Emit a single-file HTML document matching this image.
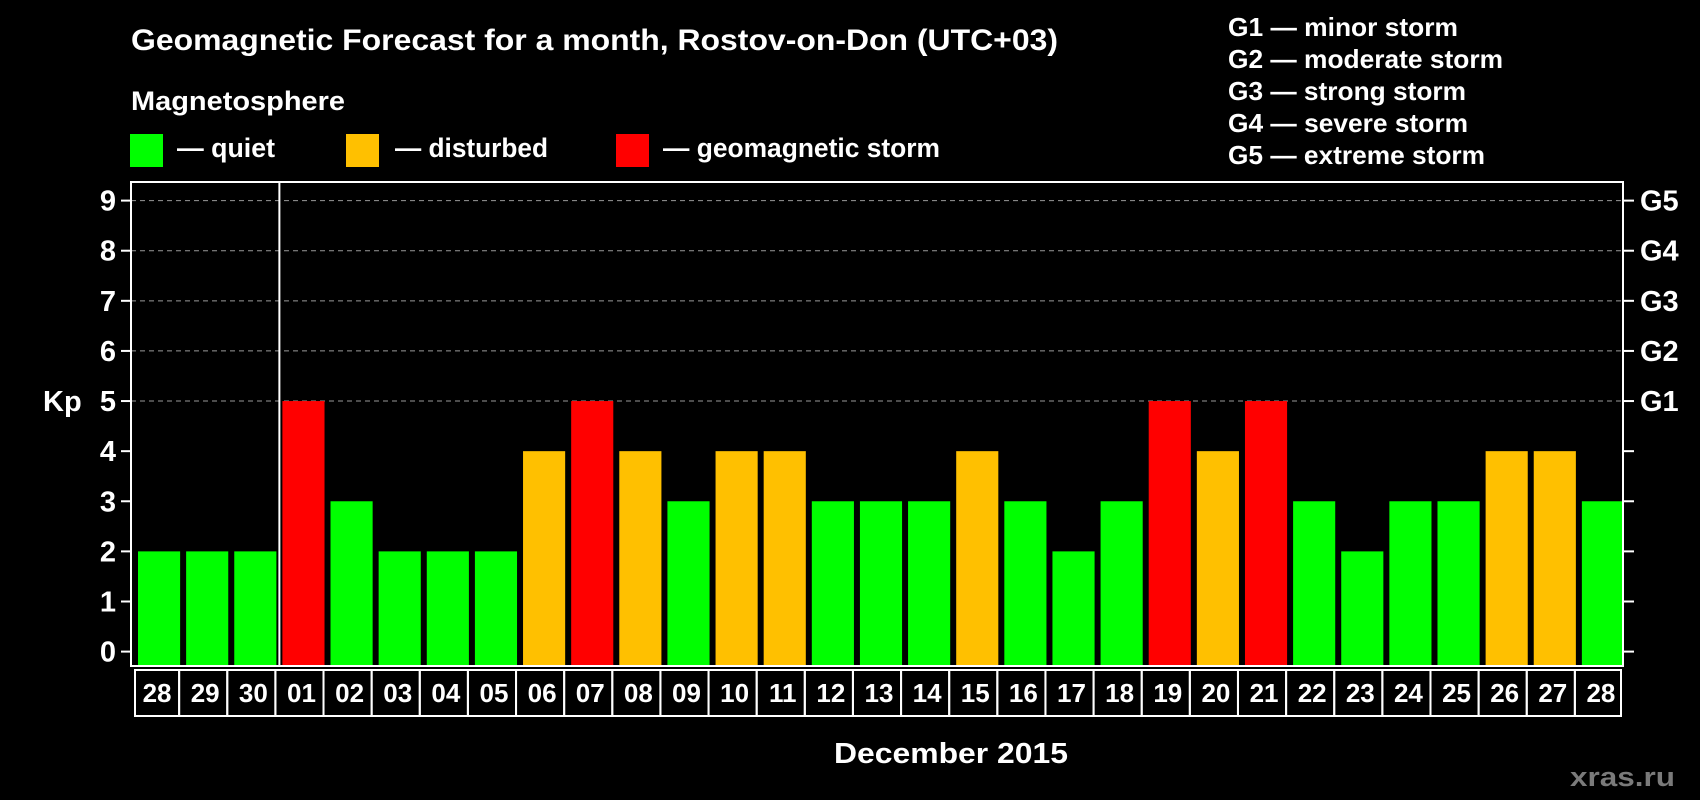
<!DOCTYPE html>
<html><head><meta charset="utf-8"><style>
html,body{margin:0;padding:0;background:#000;}
svg{display:block;font-family:"Liberation Sans",Arial,sans-serif;font-weight:bold;}
</style></head><body>
<svg id="chart" width="1700" height="800" viewBox="0 0 1700 800">
<rect width="1700" height="800" fill="#000"/>
<text x="131" y="50" font-size="30" fill="#fff" textLength="927" lengthAdjust="spacingAndGlyphs">Geomagnetic Forecast for a month, Rostov-on-Don (UTC+03)</text>
<text x="131" y="110" font-size="27" fill="#fff" textLength="214" lengthAdjust="spacingAndGlyphs">Magnetosphere</text>
<g><rect x="130" y="134" width="33" height="33" fill="#00ff00"/><text x="177" y="157" font-size="27" fill="#fff" textLength="98" lengthAdjust="spacingAndGlyphs">— quiet</text></g>
<g><rect x="346" y="134" width="33" height="33" fill="#ffc000"/><text x="395" y="157" font-size="27" fill="#fff" textLength="153" lengthAdjust="spacingAndGlyphs">— disturbed</text></g>
<g><rect x="616" y="134" width="33" height="33" fill="#ff0000"/><text x="663" y="157" font-size="27" fill="#fff" textLength="277" lengthAdjust="spacingAndGlyphs">— geomagnetic storm</text></g>
<g font-size="26" fill="#fff">
<text x="1228" y="36" textLength="230" lengthAdjust="spacingAndGlyphs">G1 — minor storm</text>
<text x="1228" y="68" textLength="275" lengthAdjust="spacingAndGlyphs">G2 — moderate storm</text>
<text x="1228" y="100" textLength="238" lengthAdjust="spacingAndGlyphs">G3 — strong storm</text>
<text x="1228" y="132" textLength="240" lengthAdjust="spacingAndGlyphs">G4 — severe storm</text>
<text x="1228" y="164" textLength="257" lengthAdjust="spacingAndGlyphs">G5 — extreme storm</text>
</g>
<text x="43" y="411" font-size="29" fill="#fff">Kp</text>
<text x="951" y="763" font-size="29" fill="#fff" text-anchor="middle" textLength="234" lengthAdjust="spacingAndGlyphs">December 2015</text>
<text x="1570" y="786" font-size="27" fill="#7a7a7a" textLength="105" lengthAdjust="spacingAndGlyphs">xras.ru</text>
<g id="plot"></g>
</svg>
<script>
const dayLabels=["28","29","30","01","02","03","04","05","06","07","08","09","10","11","12","13","14","15","16","17","18","19","20","21","22","23","24","25","26","27","28"];
const kpValues=[2,2,2,5,3,2,2,2,4,5,4,3,4,4,3,3,3,4,3,2,3,5,4,5,3,2,3,3,4,4,3];
const yTicks=[0,1,2,3,4,5,6,7,8,9];
const gLabels={5:"G1",6:"G2",7:"G3",8:"G4",9:"G5"};
const NS="http://www.w3.org/2000/svg";
const L=131,R=1623,T=182,B=666,Y0=651.6,Y9=200.6;
const y=v=>Y0-(Y0-Y9)*v/9;
const step=(R-L)/dayLabels.length;
const x=i=>L+i*step;
const g=document.getElementById('plot');
function mk(t,a){const e=document.createElementNS(NS,t);for(const k in a)e.setAttribute(k,a[k]);g.appendChild(e);return e;}
yTicks.forEach(v=>{
  if(v>=5){const gl=mk('line',{x1:L,x2:R,y1:y(v),y2:y(v),stroke:'#999','stroke-dasharray':'5,4','stroke-width':1});
    
    }
  const tl=mk('line',{x1:L-10,x2:L,y1:y(v),y2:y(v),stroke:'#fff','stroke-width':2});
  
  
  const tr=mk('line',{x1:R,x2:R+11,y1:y(v),y2:y(v),stroke:'#fff','stroke-width':2});
  
  
  const t=mk('text',{x:L-15,y:y(v)+10,'font-size':29,fill:'#fff','text-anchor':'end'});
  t.textContent=v;
  
  
  if(gLabels[v]){const gt=mk('text',{x:R+17,y:y(v)+10,'font-size':29,fill:'#fff'});gt.textContent=gLabels[v];
    
    }
});
kpValues.forEach((v,i)=>{
  const c=v>=5?'#ff0000':(v>=4?'#ffc000':'#00ff00');
  const b=mk('rect',{x:x(i)+7,y:y(v),width:step-6,height:B-y(v),fill:c});
  
  
  const bx=mk('rect',{x:x(i)+(i==0?4:0),y:B+4,width:step-(i==0?4:0)-(i==dayLabels.length-1?2:0),height:46,fill:'none',stroke:'#fff','stroke-width':2});
  
  
  const t=mk('text',{x:x(i)+step/2+2,y:B+36,'font-size':26,fill:'#fff','text-anchor':'middle'});
  t.textContent=dayLabels[i];
  
  
});
const fr=mk('rect',{x:L,y:T,width:R-L,height:B-T,fill:'none',stroke:'#fff','stroke-width':2});


const sep=mk('line',{x1:x(3)+4,x2:x(3)+4,y1:T,y2:B,stroke:'#fff','stroke-width':2});


</script>
</body></html>
